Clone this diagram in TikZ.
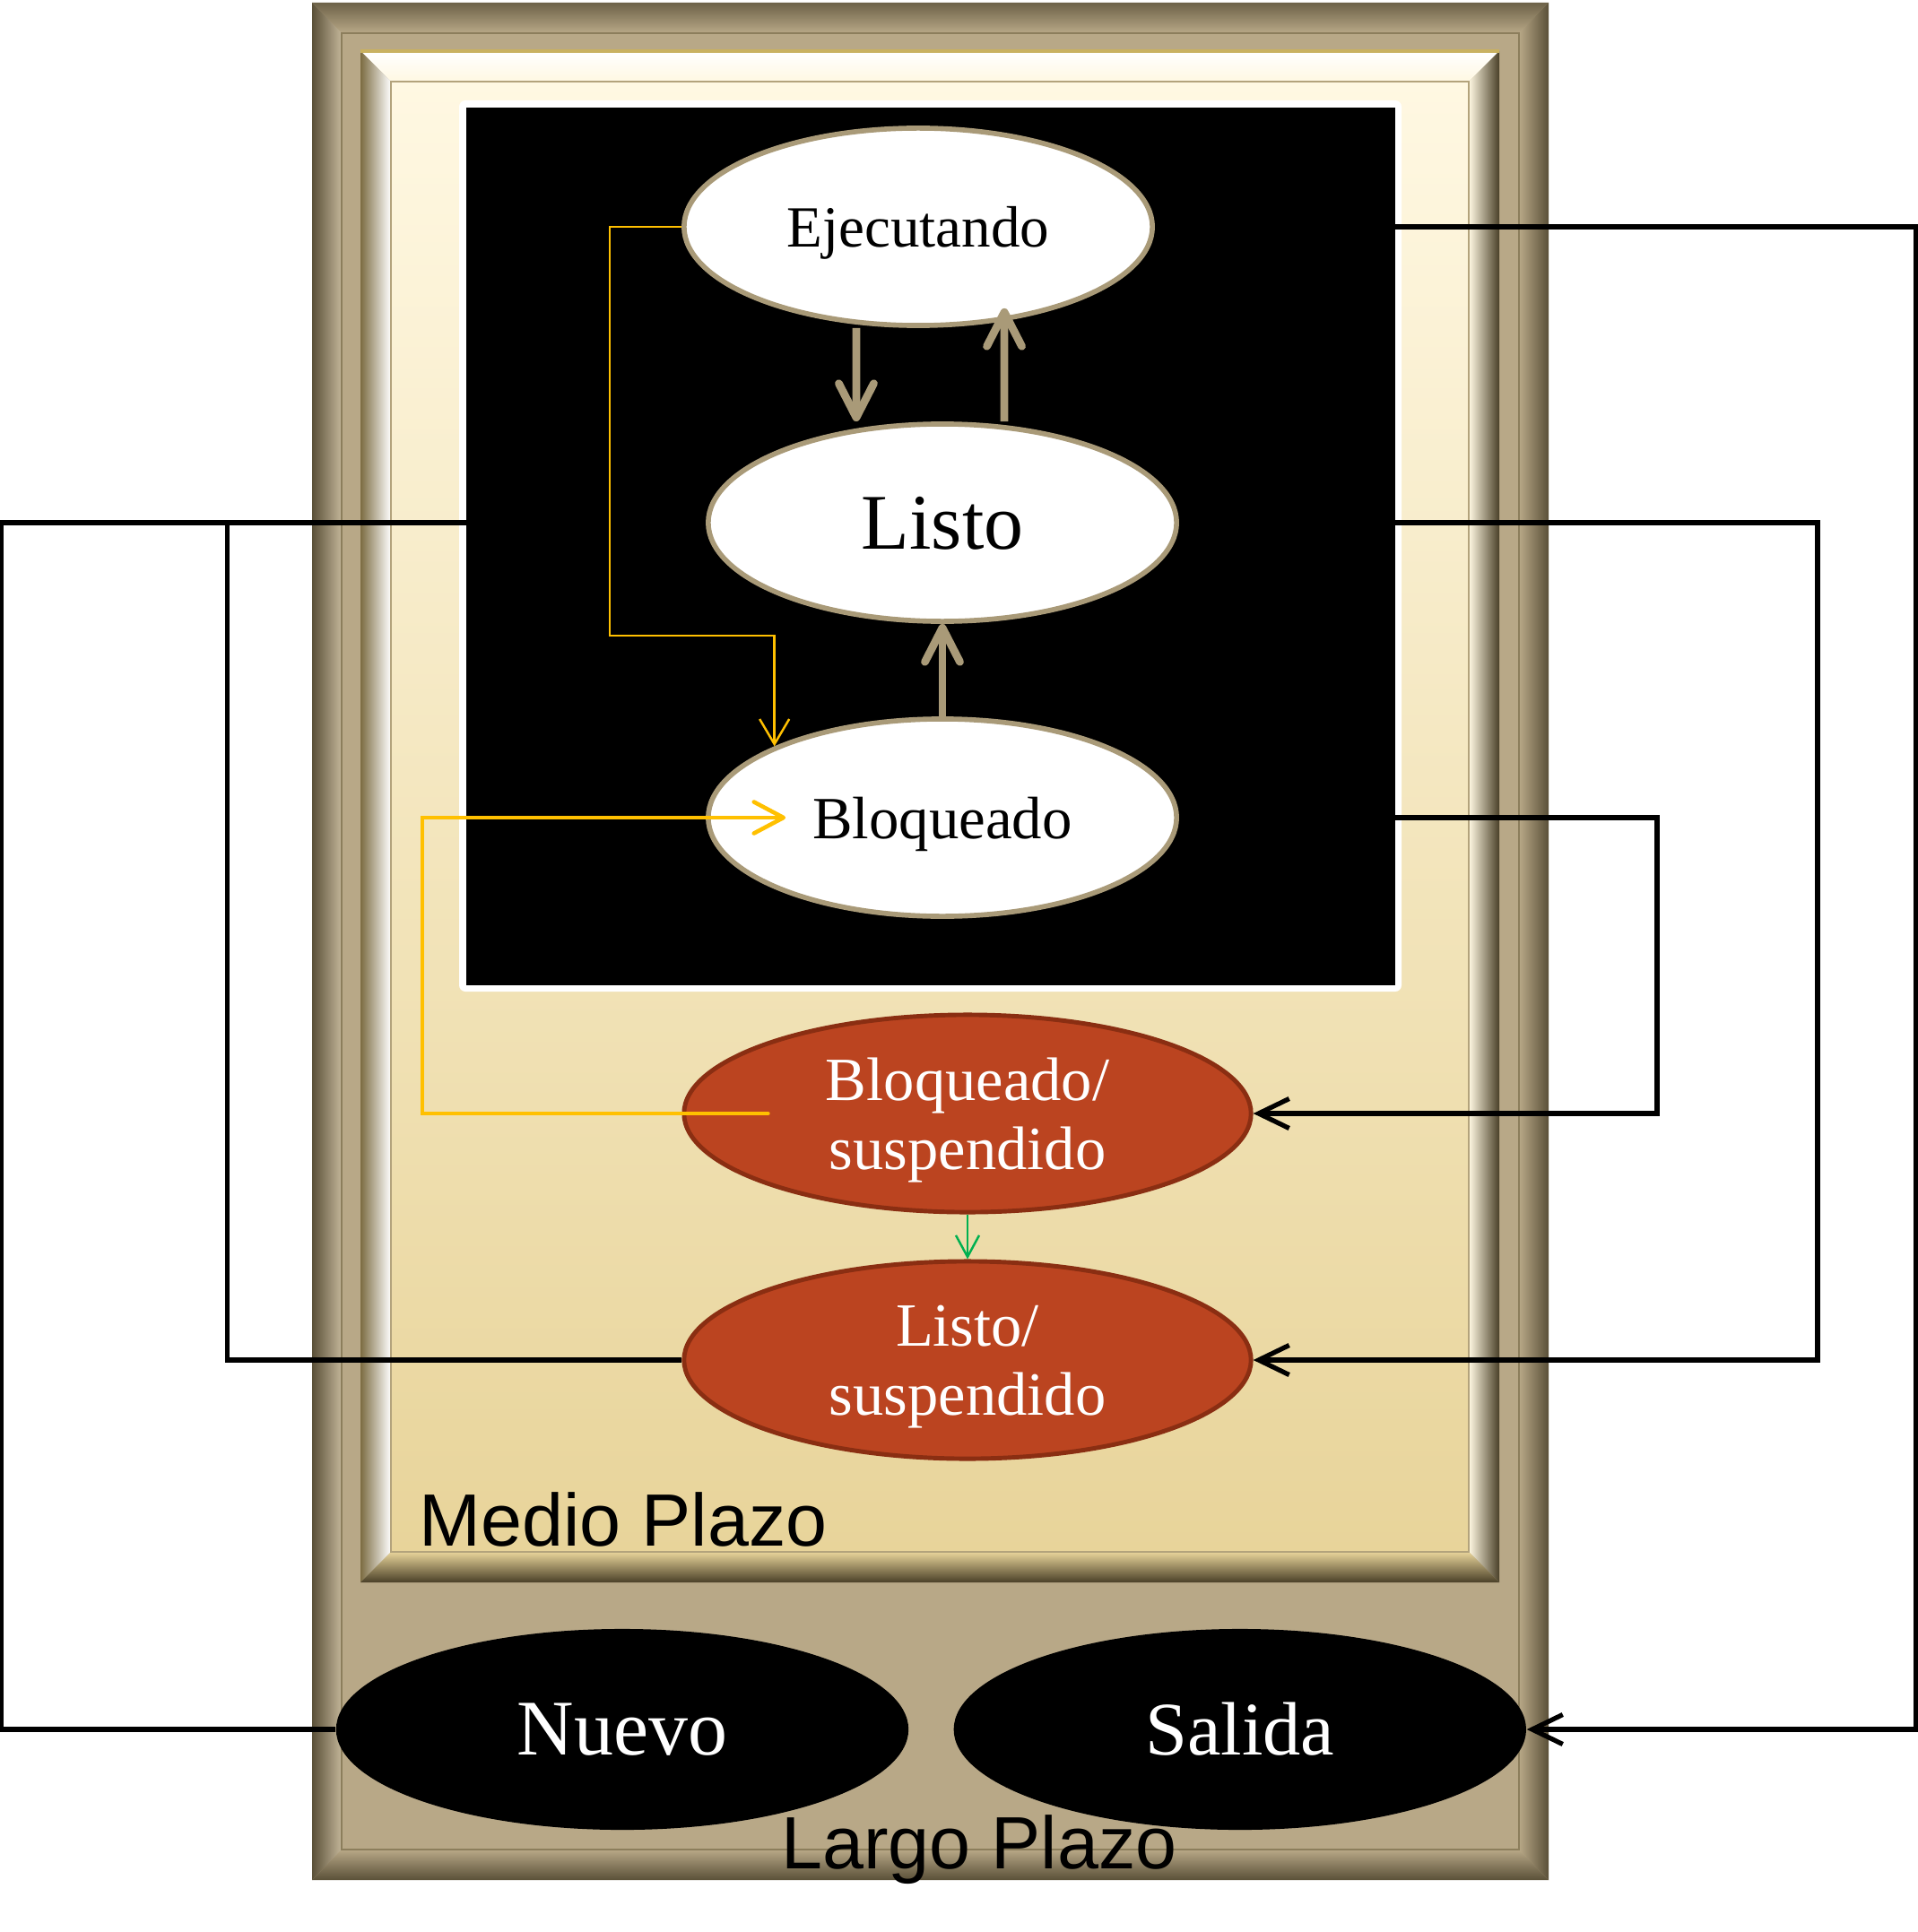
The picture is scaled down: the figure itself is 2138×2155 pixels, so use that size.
\documentclass[tikz,border=0pt]{standalone}
\usepackage{fontspec}
\setmainfont{Liberation Serif}
\setsansfont{Liberation Sans}
\usetikzlibrary{arrows.meta,positioning,shapes.geometric}
\definecolor{PlazoTan}{HTML}{B8A887}
\definecolor{PlazoDark}{HTML}{5A5038}
\definecolor{PlazoLight}{HTML}{F1E6C6}
\definecolor{PlazoGroove}{HTML}{8C7E5C}
\definecolor{MedioTop}{HTML}{FFF8E2}
\definecolor{MedioBottom}{HTML}{E8D49A}
\definecolor{MedioGold}{HTML}{C9B160}
\definecolor{MedioEdge}{HTML}{7C6C42}
\definecolor{MedioDark}{HTML}{4A4028}
\definecolor{MedioLine}{HTML}{B3A37C}
\definecolor{StateTan}{HTML}{A99A78}
\definecolor{SuspRed}{HTML}{BB4420}
\definecolor{SuspEdge}{HTML}{8A2E12}
\definecolor{SwapYellow}{HTML}{FFC000}
\definecolor{WakeGreen}{HTML}{00B050}
\tikzset{
  plazo state/.style={
    ellipse,
    draw=StateTan,
    fill=white,
    text=black,
    line width=1.6pt,
    minimum width=5.22cm,
    minimum height=2.2cm,
    inner sep=0pt,
    text depth=0pt,
    font=\fontsize{19}{22}\selectfont
  },
  plazo suspended/.style={
    ellipse,
    draw=SuspEdge,
    fill=SuspRed,
    text=white,
    line width=1.4pt,
    align=center,
    minimum width=6.32cm,
    minimum height=2.2cm,
    inner sep=0pt,
    text depth=0pt,
    font=\fontsize{19.5}{22}\selectfont
  },
  plazo term/.style={
    ellipse,
    fill=black,
    text=white,
    minimum width=6.38cm,
    minimum height=2.24cm,
    inner sep=0pt,
    font=\fontsize{25}{30}\selectfont
  },
  plazo flow/.style={-{Straight Barb[length=3.4mm,width=3.3mm]},draw=black,line width=1.5pt},
  plazo link/.style={draw=black,line width=1.5pt},
  plazo step/.style={-{Straight Barb[length=3.8mm,width=3.9mm,round]},draw=StateTan,line width=2.5pt},
  plazo swap/.style={-{Straight Barb[length=2.8mm,width=3.3mm]},draw=SwapYellow,line width=0.7pt},
  plazo resume/.style={-{Straight Barb[length=3.3mm,width=3.5mm,round]},draw=SwapYellow,line width=1.3pt,line cap=round},
  plazo wake/.style={-{Straight Barb[length=2.4mm,width=2.6mm]},draw=WakeGreen,line width=0.7pt},
  plazo label/.style={
    text=black,
    inner sep=0pt,
    font=\sffamily\fontsize{23.5}{28}\selectfont
  }
}

\begin{document}
\begin{tikzpicture}[x=0.01cm,y=-0.01cm]
  \useasboundingbox (0,0) rectangle (2138,2155);
  \fill[white] (0,0) rectangle (2138,2155);

  % largo plazo frame
  \fill[PlazoTan] (348,3) rectangle (1727,2097);
  \shade[top color=PlazoDark!80!PlazoTan,middle color=PlazoLight,bottom color=PlazoTan] (348,3) -- (1727,3) -- (1694,37) -- (381,37) -- cycle;
  \shade[left color=PlazoDark,right color=PlazoTan!85!white] (348,3) -- (381,37) -- (381,2063) -- (348,2097) -- cycle;
  \shade[left color=PlazoTan,right color=PlazoDark] (1727,3) -- (1694,37) -- (1694,2063) -- (1727,2097) -- cycle;
  \shade[top color=PlazoTan,bottom color=PlazoDark] (348,2097) -- (381,2063) -- (1694,2063) -- (1727,2097) -- cycle;
  \draw[PlazoGroove,line width=0.6pt] (381,37) rectangle (1694,2063);

  % medio plazo frame
  \shade[top color=MedioTop,bottom color=MedioBottom] (436,91) rectangle (1638,1731);
  \shade[top color=white,bottom color=MedioTop] (402,57) -- (1672,57) -- (1638,91) -- (436,91) -- cycle;
  \shade[left color=MedioEdge,right color=white] (402,57) -- (436,91) -- (436,1731) -- (402,1765) -- cycle;
  \shade[left color=MedioTop,right color=MedioDark] (1672,57) -- (1638,91) -- (1638,1731) -- (1672,1765) -- cycle;
  \shade[top color=MedioBottom,bottom color=MedioDark] (402,1765) -- (436,1731) -- (1638,1731) -- (1672,1765) -- cycle;
  \draw[MedioGold,line width=1.2pt] (402,57) -- (1672,57);
  \draw[MedioLine,line width=0.5pt] (436,91) rectangle (1638,1731);

  % corto plazo box
  \fill[white,rounded corners=2pt] (512,112) rectangle (1563,1106);
  \fill[black] (520,120) rectangle (1556,1099);

  \node[plazo state,font=\fontsize{18.5}{22}\selectfont] (ejecutando) at (1024,253) {Ejecutando};
  \node[plazo state,font=\fontsize{25}{30}\selectfont] (listo) at (1051,583) {Listo};
  \node[plazo state] (bloqueado) at (1051,912) {Bloqueado};
  \node[plazo suspended] (blsusp) at (1079,1242) {Bloqueado/\\suspendido};
  \node[plazo suspended] (listosusp) at (1079,1517) {Listo/\\suspendido};
  \node[plazo term] (nuevo) at (694,1929) {Nuevo};
  \node[plazo term,font=\fontsize{24}{29}\selectfont,right=0.49cm of nuevo] (salida) {Salida};

  \node[plazo label,anchor=base west] (medio) at (467,1724) {Medio Plazo};
  \node[plazo label,anchor=base] (largo) at (1092,2084) {Largo Plazo};

  \draw[plazo flow] (ejecutando.east) -| ([xshift=4.34cm]salida.east) -- (salida.east);
  \draw[plazo flow] (listo.east) -| ([xshift=6.29cm]listosusp.east) -- (listosusp.east);
  \draw[plazo flow] (bloqueado.east) -| ([xshift=4.5cm]blsusp.east) -- (blsusp.east);
  \draw[plazo link] (listosusp.west) -| ([xshift=-5.33cm]listo.west) -- (listo.west);
  \draw[plazo link] (nuevo.west) -| ([xshift=-7.85cm]listo.west) -- (listo.west);

  \draw[plazo step] ([xshift=-0.69cm]ejecutando.south) -- ([xshift=-0.96cm]listo.north);
  \draw[plazo step] ([xshift=0.69cm]listo.north) -- ([xshift=0.96cm,yshift=0.22cm]ejecutando.south);
  \draw[plazo step] (bloqueado.north) -- (listo.south);
  \draw[plazo swap] (ejecutando.west) -| (680,709) -| (bloqueado.157);
  \draw[plazo resume] ([xshift=0.96cm]blsusp.west) -| ([xshift=-3.16cm]bloqueado.west) -- ([xshift=0.89cm]bloqueado.west);
  \draw[plazo wake] (blsusp.south) -- (listosusp.north);
\end{tikzpicture}
\end{document}
